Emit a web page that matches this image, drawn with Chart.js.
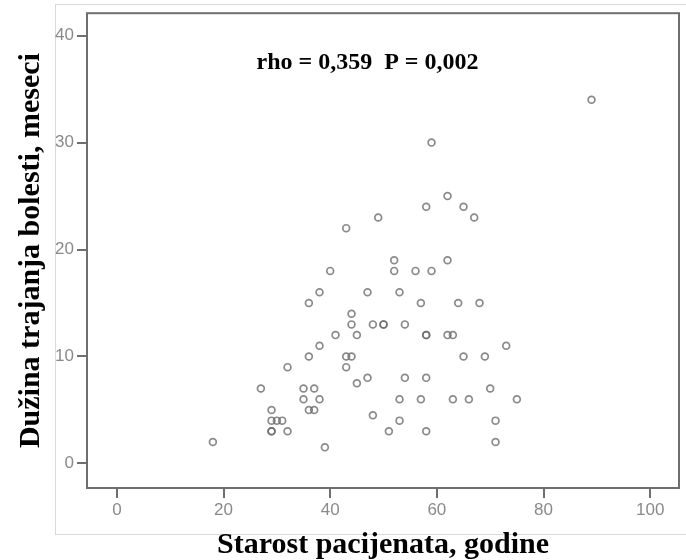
<!DOCTYPE html>
<html>
<head>
<meta charset="utf-8">
<title>Starost pacijenata i trajanje bolesti</title>
<script src="https://cdn.jsdelivr.net/npm/chart.js"></script>
<style>
  body { margin: 0; background: #fff; }
  #wrap { width: 686px; height: 560px; }
</style>
</head>
<body>
<div id="wrap"><canvas id="scatterChart" width="686" height="560"></canvas></div>
<script>
// Data

// age of patient (years)
const ages = [
  89, 59, 62, 58, 65, 67, 49, 43, 52, 62,
  40, 52, 56, 59, 38, 47, 53, 36, 57, 64,
  68, 44, 44, 48, 50, 50, 54, 41, 45, 58,
  58, 62, 63, 38, 73, 36, 43, 44, 65, 69,
  32, 43, 47, 54, 58, 45, 27, 35, 37, 70,
  35, 38, 53, 57, 63, 66, 75, 29, 36, 37,
  48, 29, 30, 31, 53, 71, 29, 29, 32, 51,
  58, 18, 71, 39
];
// disease duration (months), same order as ages
const durations = [
  34, 30, 25, 24, 24, 23, 23, 22, 19, 19,
  18, 18, 18, 18, 16, 16, 16, 15, 15, 15,
  15, 14, 13, 13, 13, 13, 13, 12, 12, 12,
  12, 12, 12, 11, 11, 10, 10, 10, 10, 10,
  9, 9, 8, 8, 8, 7.5, 7, 7, 7, 7,
  6, 6, 6, 6, 6, 6, 6, 5, 5, 5,
  4.5, 4, 4, 4, 4, 4, 3, 3, 3, 3,
  3, 2, 2, 1.5
];

const xTicks = [0, 20, 40, 60, 80, 100];
const yTicks = [0, 10, 20, 30, 40];

const xTitle = 'Starost pacijenata, godine';
const yTitle = 'Dužina trajanja bolesti, meseci';
const noteText = 'rho = 0,359  P = 0,002';
const notePos = [47, 37.5]; // where the note sits, in data units

// Helpers
const points = ages.map((a, i) => ({ x: a, y: durations[i] }));
const tickFont = { family: '"Liberation Sans Narrow", "Liberation Sans", Arial, sans-serif', size: 17 };
const titleFont = { family: '"Liberation Serif", "Times New Roman", serif', size: 30, weight: 'bold', lineHeight: 1 };
const frameColor = '#6e6e6e';

// draws background, outer grey box, plot frame and the rho note
const frameAndNote = {
  id: 'frameAndNote',
  beforeDraw(chart) {
    const ctx = chart.ctx;
    ctx.save();
    ctx.fillStyle = '#fff';
    ctx.fillRect(0, 0, chart.width, chart.height);
    ctx.strokeStyle = '#d9d9d9';
    ctx.lineWidth = 1;
    ctx.strokeRect(55.5, 4.5, 700, 530);
    ctx.restore();
  },
  afterDraw(chart) {
    const { ctx, chartArea: a, scales } = chart;
    ctx.save();
    ctx.strokeStyle = frameColor;
    ctx.lineWidth = 2;
    ctx.strokeRect(a.left, a.top, a.right - a.left, a.bottom - a.top);

    ctx.fillStyle = '#000';
    ctx.font = 'bold 24px "Liberation Serif", "Times New Roman", serif';
    ctx.textAlign = 'center';
    ctx.textBaseline = 'middle';
    ctx.fillText(noteText, scales.x.getPixelForValue(notePos[0]), scales.y.getPixelForValue(notePos[1]));
    ctx.restore();
  }
};

const scatterChart = new Chart(document.getElementById('scatterChart'), {
  type: 'scatter',
  data: {
    datasets: [{
      data: points,
      pointStyle: 'circle',
      pointRadius: 3.4,
      pointHoverRadius: 3.4,
      borderWidth: 1.7,
      borderColor: 'rgba(105, 105, 105, 0.78)',
      backgroundColor: 'rgba(0, 0, 0, 0)'
    }]
  },
  options: {
    responsive: false,
    animation: false,
    devicePixelRatio: 1,
    layout: { padding: { left: 0, top: 11, right: 7, bottom: 0 } },
    plugins: {
      legend: { display: false },
      tooltip: { enabled: false }
    },
    scales: {
      x: {
        type: 'linear',
        min: -5.6,
        max: 105.4,
        afterBuildTicks: (scale) => { scale.ticks = xTicks.map(v => ({ value: v })); },
        afterFit: (scale) => { scale.height = 72; },
        grid: { drawOnChartArea: false, drawTicks: true, tickLength: 10, color: frameColor, lineWidth: 2 },
        border: { display: false },
        ticks: { color: '#8a8a8a', font: tickFont, padding: 2, maxRotation: 0 },
        title: { display: true, text: xTitle, color: '#000', font: titleFont, padding: { top: 0, bottom: 0 } }
      },
      y: {
        type: 'linear',
        min: -2.3,
        max: 42.1,
        afterBuildTicks: (scale) => { scale.ticks = yTicks.map(v => ({ value: v })); },
        afterFit: (scale) => { scale.width = 87; },
        grid: { drawOnChartArea: false, drawTicks: true, tickLength: 10, color: frameColor, lineWidth: 2 },
        border: { display: false },
        ticks: { color: '#8a8a8a', font: tickFont, padding: 3 },
        title: { display: true, text: yTitle, color: '#000', font: titleFont, padding: { top: 16, bottom: 0 } }
      }
    }
  },
  plugins: [frameAndNote]
});
</script>
</body>
</html>
